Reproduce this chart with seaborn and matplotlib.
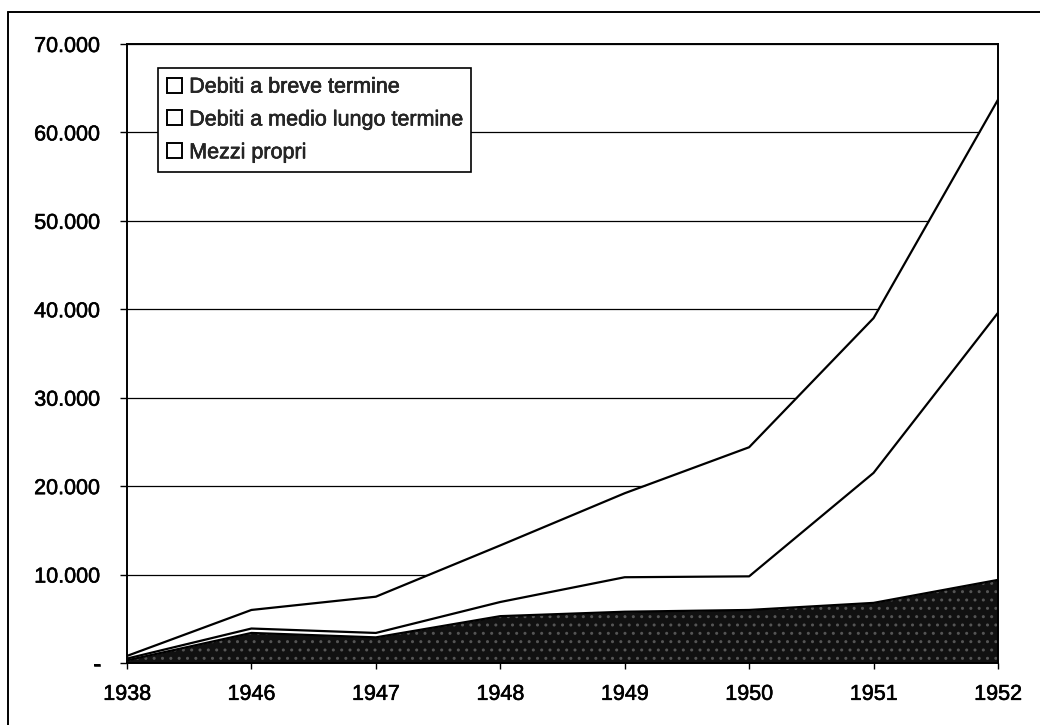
import matplotlib
matplotlib.use("Agg")
import matplotlib.pyplot as plt
from matplotlib.lines import Line2D
from matplotlib.patches import Patch
import matplotlib.patheffects as pe
import numpy as np
import pandas as pd
import seaborn as sns

# Fonti di finanziamento (valori in milioni)
anni = ["1938", "1946", "1947", "1948", "1949", "1950", "1951", "1952"]
mezzi_propri = [300, 3400, 2900, 5300, 5800, 6000, 6800, 9400]
debiti_medio_lungo = [200, 500, 500, 1600, 3900, 3800, 14700, 30200]
debiti_breve = [300, 2100, 4100, 6400, 9500, 14600, 17500, 24100]

y_ticks = [0, 10000, 20000, 30000, 40000, 50000, 60000, 70000]
y_labels = ["-", "10.000", "20.000", "30.000", "40.000", "50.000", "60.000", "70.000"]

serie = ["Debiti a breve termine", "Debiti a medio lungo termine", "Mezzi propri"]

sns.set_theme(style="white")
plt.rcParams["font.family"] = ["Liberation Sans", "DejaVu Sans"]

FS = 15.5
thick = [pe.withStroke(linewidth=0.4, foreground="black")]

fig = plt.figure(figsize=(10.4, 7.25), dpi=100)
ax = fig.add_axes([0.1221, 0.0855, 0.9596 - 0.1221, 0.9393 - 0.0855])

x = np.arange(len(anni))
base = np.array(mezzi_propri, dtype=float)
medio = base + np.array(debiti_medio_lungo, dtype=float)
totale = medio + np.array(debiti_breve, dtype=float)

# horizontal grid sits under the opaque areas
for v in y_ticks[1:]:
    ax.axhline(v, color="black", lw=0.9, zorder=0.5)

# stacked areas
ax.fill_between(x, medio, totale, facecolor="white", lw=0, zorder=1)
ax.fill_between(x, base, medio, facecolor="white", lw=0, zorder=1)
ax.fill_between(x, 0, base, facecolor="#111111", lw=0, zorder=1)
ax.fill_between(x, 0, base, facecolor="none", edgecolor="#555555",
                hatch="..", lw=0, zorder=1.1)

# boundary lines drawn through seaborn
df = pd.DataFrame({
    "pos": np.concatenate([x, x, x]),
    "valore": np.concatenate([totale, medio, base]),
    "serie": np.repeat(serie, len(x)),
})
sns.lineplot(data=df, x="pos", y="valore", units="serie", estimator=None,
             color="black", lw=1.6, ax=ax, zorder=3, legend=False)
ax.plot(x, base + 350, color="white", lw=0.8, zorder=2.5)

ax.set_xlim(0, len(anni) - 1)
ax.set_ylim(0, 70000)
ax.set_xticks(x)
ax.set_xticklabels(anni)
ax.set_yticks(y_ticks)
ax.set_yticklabels(y_labels)
ax.set_xlabel("")
ax.set_ylabel("")

ax.tick_params(axis="x", direction="out", length=4, width=1, color="black",
               pad=11, labelsize=FS, labelcolor="black", bottom=True)
ax.tick_params(axis="y", direction="out", length=5, width=1, color="black",
               pad=14, labelsize=FS, labelcolor="black", left=True)
for t in ax.get_xticklabels() + ax.get_yticklabels():
    t.set_path_effects(thick)

for s in ax.spines.values():
    s.set_visible(True)
    s.set_color("black")
    s.set_linewidth(1.4)
    s.set_zorder(4)

handles = [Patch(facecolor="white", edgecolor="black", lw=1.4) for _ in serie]
leg = ax.legend(handles, serie, loc="upper left",
                bbox_to_anchor=(31 / 871, 1 - 24 / 619), borderaxespad=0,
                frameon=True, fancybox=False, shadow=False, fontsize=FS,
                handlelength=0.7, handleheight=0.7, handletextpad=0.35,
                labelspacing=0.55, borderpad=0.4)
leg.get_frame().set_edgecolor("black")
leg.get_frame().set_linewidth(1.2)
leg.get_frame().set_facecolor("white")
leg.get_frame().set_alpha(1)
leg.set_zorder(5)
for t in leg.get_texts():
    t.set_path_effects(thick)

# outer frame of the figure
fig.add_artist(Line2D([8 / 1040, 8 / 1040], [0, 1 - 12 / 725],
                      transform=fig.transFigure, color="black", lw=1.4))
fig.add_artist(Line2D([8 / 1040, 1], [1 - 12 / 725, 1 - 12 / 725],
                      transform=fig.transFigure, color="black", lw=1.4))

fig.savefig("out.png", dpi=100)
